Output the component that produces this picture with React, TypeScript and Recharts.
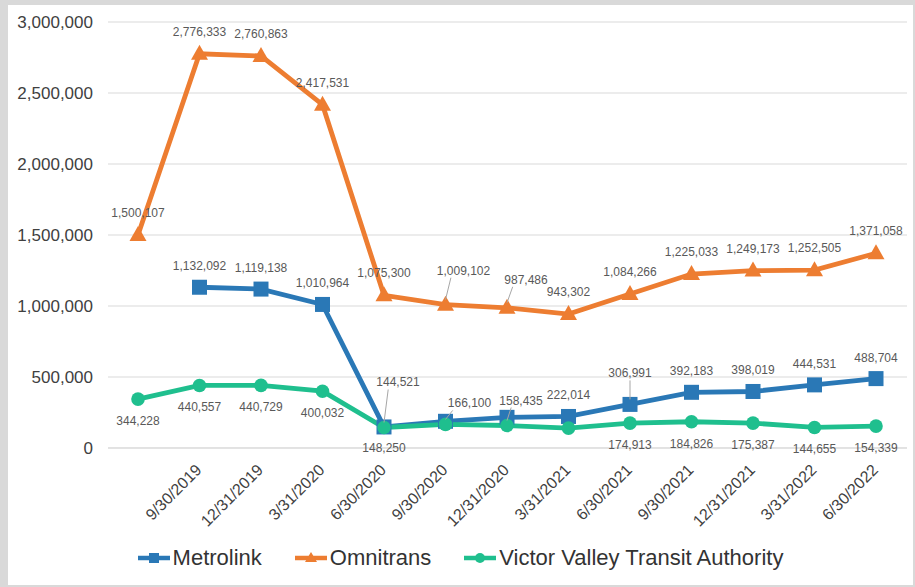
import React from "react";
import { LineChart, Line, XAxis, YAxis, CartesianGrid, LabelList } from "recharts";

const quarters = [
  "",
  "9/30/2019",
  "12/31/2019",
  "3/31/2020",
  "6/30/2020",
  "9/30/2020",
  "12/31/2020",
  "3/31/2021",
  "6/30/2021",
  "9/30/2021",
  "12/31/2021",
  "3/31/2022",
  "6/30/2022",
];

const metrolink = [
  null, 1132092, 1119138, 1010964, 148250, 188000, 216000, 222014, 306991, 392183, 398019, 444531, 488704,
];
const omnitrans = [
  1500107, 2776333, 2760863, 2417531, 1075300, 1009102, 987486, 943302, 1084266, 1225033, 1249173, 1252505, 1371058,
];
const victorValley = [
  344228, 440557, 440729, 400032, 144521, 166100, 158435, 140000, 174913, 184826, 175387, 144655, 154339,
];

const yTicks = [0, 500000, 1000000, 1500000, 2000000, 2500000, 3000000];

const BLUE = "#2a78b6";
const ORANGE = "#ed7d31";
const GREEN = "#1fbf8e";
const FONT = "'Liberation Sans', Arial, sans-serif";

const data = quarters.map((q, i) => ({
  quarter: q,
  metrolink: metrolink[i],
  omnitrans: omnitrans[i],
  vvta: victorValley[i],
}));

type Place = { dx?: number; dy?: number; leader?: boolean; hide?: boolean };

// where each series puts its value labels, plus the few that were moved by hand
const placement: Record<string, { dy: number; special: Record<number, Place> }> = {
  omnitrans: {
    dy: -22,
    special: {
      5: { dx: 18, dy: -34, leader: true },
      6: { dx: 19, dy: -28, leader: true },
    },
  },
  metrolink: {
    dy: -21,
    special: {
      4: { dy: 21 },
      5: { hide: true },
      6: { hide: true },
      8: { dy: -31, leader: true },
    },
  },
  vvta: {
    dy: 22,
    special: {
      4: { dx: 14, dy: -45, leader: true },
      5: { dx: 24, dy: -21, leader: true },
      6: { dx: 14, dy: -25, leader: true },
      7: { hide: true },
    },
  },
};

const fmt = (v: number) => v.toLocaleString("en-US");

function makeLabel(series: string) {
  return (props: any) => {
    const { x, y, value, index } = props;
    if (value == null || x == null || y == null) return null;
    const p = placement[series];
    const s = p.special[index] || {};
    if (s.hide) return null;
    const dx = s.dx ?? 0;
    const dy = s.dy ?? p.dy;
    const lx = x + dx;
    const ly = y + dy;
    return (
      <g>
        {s.leader && (
          <line
            x1={x + dx * 0.3}
            y1={ly + 7}
            x2={x}
            y2={y - 5}
            stroke="#a6a6a6"
            strokeWidth={1}
          />
        )}
        <text
          x={lx}
          y={ly}
          textAnchor="middle"
          dominantBaseline="central"
          fontSize={12}
          fontFamily={FONT}
          fill="#595959"
        >
          {fmt(value)}
        </text>
      </g>
    );
  };
}

function makeDot(shape: "square" | "triangle" | "circle", color: string) {
  return (props: any) => {
    const { cx, cy, index, value } = props;
    if (value == null || cx == null || cy == null) return <g key={`e-${index}`} />;
    if (shape === "square") {
      return <rect key={index} x={cx - 7.5} y={cy - 7.5} width={15} height={15} fill={color} />;
    }
    if (shape === "triangle") {
      return (
        <polygon
          key={index}
          points={`${cx},${cy - 9} ${cx + 8.5},${cy + 6} ${cx - 8.5},${cy + 6}`}
          fill={color}
        />
      );
    }
    return <circle key={index} cx={cx} cy={cy} r={6.8} fill={color} />;
  };
}

function DateTick(props: any) {
  const { x, y, payload } = props;
  const ax = x + 3;
  const ay = y + 15;
  return (
    <text
      x={ax}
      y={ay}
      textAnchor="end"
      transform={`rotate(-45, ${ax}, ${ay})`}
      fontSize={16}
      fontFamily={FONT}
      fill="#404040"
    >
      {payload.value}
    </text>
  );
}

function LegendIcon({ shape, color }: { shape: string; color: string }) {
  return (
    <svg width={32} height={16}>
      <line x1={0} y1={8} x2={32} y2={8} stroke={color} strokeWidth={4.5} />
      {shape === "square" && <rect x={11} y={3} width={10} height={10} fill={color} />}
      {shape === "triangle" && <polygon points="16,2 22,12 10,12" fill={color} />}
      {shape === "circle" && <circle cx={16} cy={8} r={5} fill={color} />}
    </svg>
  );
}

const legendItems = [
  { name: "Metrolink", shape: "square", color: BLUE },
  { name: "Omnitrans", shape: "triangle", color: ORANGE },
  { name: "Victor Valley Transit Authority", shape: "circle", color: GREEN },
];

export default function App() {
  return (
    <div
      style={{
        position: "absolute",
        left: 0,
        top: 0,
        width: 915,
        height: 587,
        background: "#d9d9d9",
      }}
    >
      <div
        style={{
          position: "absolute",
          left: 8,
          top: 5,
          width: 905,
          height: 580,
          background: "#ffffff",
        }}
      >
        <LineChart
          width={905}
          height={580}
          data={data}
          margin={{ top: 17, right: 6, left: 0, bottom: 47 }}
        >
          <CartesianGrid vertical={false} stroke="#d9d9d9" />
          <XAxis
            dataKey="quarter"
            height={90}
            interval={0}
            padding={{ left: 30, right: 31 }}
            axisLine={{ stroke: "#d9d9d9" }}
            tickLine={false}
            tick={<DateTick />}
          />
          <YAxis
            width={100}
            domain={[0, 3000000]}
            ticks={yTicks}
            tickFormatter={fmt}
            axisLine={false}
            tickLine={false}
            tickMargin={9}
            tick={{ fontSize: 17, fontFamily: FONT, fill: "#404040" }}
          />
          <Line
            dataKey="metrolink"
            stroke={BLUE}
            strokeWidth={4.8}
            dot={makeDot("square", BLUE)}
            isAnimationActive={false}
          >
            <LabelList dataKey="metrolink" content={makeLabel("metrolink")} />
          </Line>
          <Line
            dataKey="omnitrans"
            stroke={ORANGE}
            strokeWidth={4.8}
            dot={makeDot("triangle", ORANGE)}
            isAnimationActive={false}
          >
            <LabelList dataKey="omnitrans" content={makeLabel("omnitrans")} />
          </Line>
          <Line
            dataKey="vvta"
            stroke={GREEN}
            strokeWidth={4.8}
            dot={makeDot("circle", GREEN)}
            isAnimationActive={false}
          >
            <LabelList dataKey="vvta" content={makeLabel("vvta")} />
          </Line>
        </LineChart>

        {/* Legend */}
        <div
          style={{
            position: "absolute",
            left: 0,
            top: 535,
            width: 905,
            height: 36,
            display: "flex",
            justifyContent: "center",
            alignItems: "center",
            fontFamily: FONT,
            fontSize: 22,
            color: "#333333",
          }}
        >
          {legendItems.map((item, i) => (
            <div
              key={item.name}
              style={{
                display: "flex",
                alignItems: "center",
                marginLeft: i === 0 ? 0 : 33,
              }}
            >
              <LegendIcon shape={item.shape} color={item.color} />
              <span style={{ marginLeft: 3 }}>{item.name}</span>
            </div>
          ))}
        </div>
      </div>
    </div>
  );
}
